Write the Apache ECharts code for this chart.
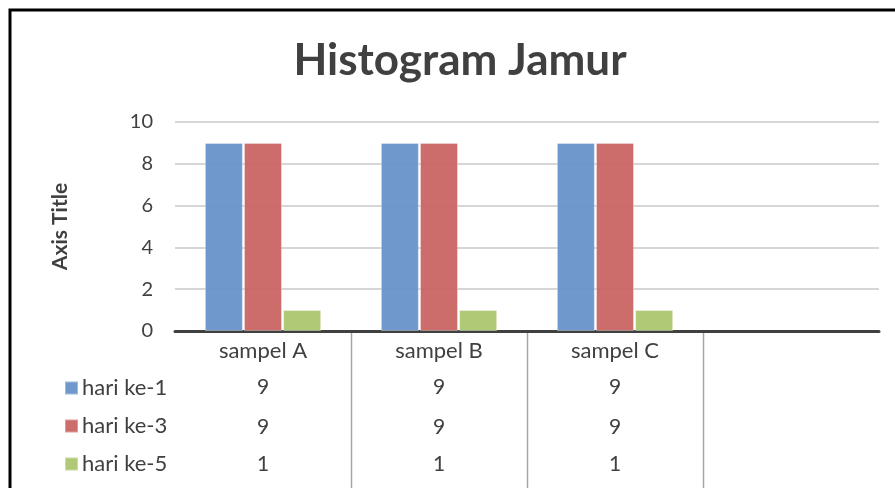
<!DOCTYPE html>
<html>
<head>
<meta charset="utf-8">
<script src="https://cdn.jsdelivr.net/npm/echarts@6/dist/echarts.min.js"></script>
<style>
    html, body { margin: 0; padding: 0; background: #fff; }
    #chart { width: 895px; height: 488px; }
</style>
</head>
<body>
<div id="chart"></div>
<script>
// data (4th category is an empty slot, like in the Excel sheet)
const categories = ['sampel A', 'sampel B', 'sampel C', ''];
const seriesNames = ['hari ke-1', 'hari ke-3', 'hari ke-5'];
const hari1 = [9, 9, 9, null];
const hari3 = [9, 9, 9, null];
const hari5 = [1, 1, 1, null];
const yTicks = [0, 2, 4, 6, 8, 10];
const colors = ['#6794c9', '#c96564', '#abc66f'];

const font = 'Lato, "Open Sans", sans-serif';
const txt = '#404040';

const chart = echarts.init(document.getElementById('chart'));

// one hidden-line x axis per data table row
function tableRow(values, offset) {
    return {
        type: 'category',
        gridIndex: 0,
        position: 'bottom',
        offset: offset,
        data: values.map(v => (v === null ? '' : String(v))),
        axisLine: { show: false },
        axisTick: { show: false },
        axisLabel: { color: txt, fontSize: 21, fontFamily: font, margin: 9 }
    };
}

const allSeries = [hari1, hari3, hari5];

chart.setOption({
    animation: false,
    title: {
        text: 'Histogram Jamur',
        left: 455,
        textAlign: 'center',
        top: 34,
        textStyle: { fontSize: 44, fontWeight: 'bold', color: txt, fontFamily: font }
    },
    legend: {
        orient: 'vertical',
        left: 59,
        top: 372,
        icon: 'rect',
        itemWidth: 13,
        itemHeight: 13,
        itemGap: 16,
        data: seriesNames,
        textStyle: { fontSize: 22, color: txt, fontFamily: font, padding: [0, 0, 0, -1] }
    },
    grid: { left: 175, right: 16, top: 122, bottom: 157 },
    xAxis: [
        {
            type: 'category',
            data: categories,
            axisLine: { lineStyle: { color: '#404040', width: 3 } },
            axisTick: { show: false },
            axisLabel: { color: txt, fontSize: 22, fontFamily: font, margin: 9 }
        },
        tableRow(hari1, 37),
        tableRow(hari3, 77),
        tableRow(hari5, 114)
    ],
    yAxis: {
        type: 'value',
        min: yTicks[0],
        max: yTicks[yTicks.length - 1],
        interval: 2,
        name: 'Axis Title',
        nameLocation: 'middle',
        nameGap: 104,
        nameTextStyle: { fontSize: 21, fontWeight: 'bold', color: txt, fontFamily: font },
        axisLine: { show: false },
        axisTick: { show: false },
        axisLabel: { color: txt, fontSize: 20, fontFamily: font, margin: 22 },
        splitLine: { lineStyle: { color: '#c8c8c8', width: 1.5 } }
    },
    series: seriesNames.map((name, i) => ({
        name: name,
        type: 'bar',
        data: allSeries[i],
        barWidth: 38,
        barGap: '3%',
        itemStyle: { color: colors[i], opacity: 0.95, borderColor: 'rgba(255,255,255,0.35)', borderWidth: 1 }
    }))
});

// data table: vertical separators between categories (from the x scale)
let lines = [];
let x0 = chart.convertToPixel({ xAxisIndex: 0 }, categories[0]);
let x1 = chart.convertToPixel({ xAxisIndex: 0 }, categories[1]);
let band = x1 - x0;
let yBase = chart.convertToPixel({ yAxisIndex: 0 }, yTicks[0]);
for (let i = 1; i < categories.length; i++) {
    let x = Math.round(x0 + band * (i - 0.5)) + 0.5;
    lines.push({
        type: 'line',
        shape: { x1: x, y1: yBase + 2, x2: x, y2: 500 },
        style: { stroke: '#a6a6a6', lineWidth: 1.5 },
        silent: true
    });
}
lines.push({
    type: 'rect',
    shape: { x: 10, y: 10, width: 900, height: 500 },
    style: { fill: null, stroke: '#000', lineWidth: 3 },
    silent: true
});
chart.setOption({ graphic: lines });
</script>
</body>
</html>
